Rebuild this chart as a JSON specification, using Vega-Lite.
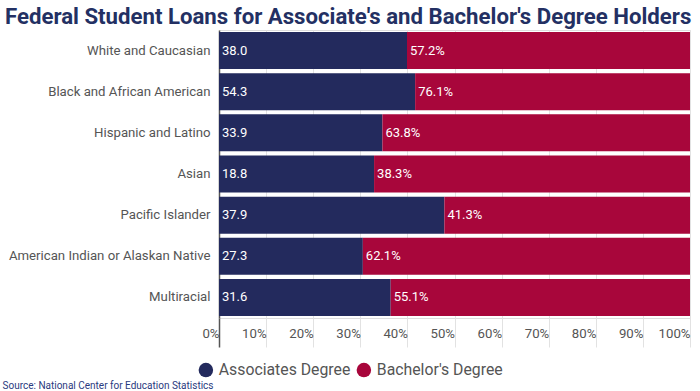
{
  "$schema": "https://vega.github.io/schema/vega-lite/v6.json",
  "width": 471,
  "height": 288,
  "autosize": "none",
  "padding": {"left": 219, "top": 30, "right": 10, "bottom": 73},
  "background": "white",
  "title": {
    "text": "Federal Student Loans for Associate's and Bachelor's Degree Holders",
    "font": "Roboto",
    "fontSize": 22.2,
    "fontWeight": "bold",
    "color": "#233063",
    "anchor": "start",
    "frame": "group",
    "dx": -214,
    "dy": 24,
    "baseline": "alphabetic",
    "offset": 8
  },
  "data": {
    "values": [
      {"group": "White and Caucasian", "degree": "Associates Degree", "value": 38.0, "label": "38.0"},
      {"group": "White and Caucasian", "degree": "Bachelor's Degree", "value": 57.2, "label": "57.2%"},
      {"group": "Black and African American", "degree": "Associates Degree", "value": 54.3, "label": "54.3"},
      {"group": "Black and African American", "degree": "Bachelor's Degree", "value": 76.1, "label": "76.1%"},
      {"group": "Hispanic and Latino", "degree": "Associates Degree", "value": 33.9, "label": "33.9"},
      {"group": "Hispanic and Latino", "degree": "Bachelor's Degree", "value": 63.8, "label": "63.8%"},
      {"group": "Asian", "degree": "Associates Degree", "value": 18.8, "label": "18.8"},
      {"group": "Asian", "degree": "Bachelor's Degree", "value": 38.3, "label": "38.3%"},
      {"group": "Pacific Islander", "degree": "Associates Degree", "value": 37.9, "label": "37.9"},
      {"group": "Pacific Islander", "degree": "Bachelor's Degree", "value": 41.3, "label": "41.3%"},
      {"group": "American Indian or Alaskan Native", "degree": "Associates Degree", "value": 27.3, "label": "27.3"},
      {"group": "American Indian or Alaskan Native", "degree": "Bachelor's Degree", "value": 62.1, "label": "62.1%"},
      {"group": "Multiracial", "degree": "Associates Degree", "value": 31.6, "label": "31.6"},
      {"group": "Multiracial", "degree": "Bachelor's Degree", "value": 55.1, "label": "55.1%"}
    ]
  },
  "transform": [
    {"stack": "value", "groupby": ["group"], "sort": [{"field": "degree", "order": "ascending"}], "offset": "normalize", "as": ["x0", "x1"]}
  ],
  "encoding": {
    "y": {
      "field": "group",
      "type": "nominal",
      "sort": null,
      "scale": {"paddingInner": 0.1, "paddingOuter": 0.05},
      "axis": {
        "title": null,
        "ticks": false,
        "domain": true,
        "domainColor": "#555555",
        "domainWidth": 1.5,
        "labelFont": "Roboto",
        "labelFontSize": 13.2,
        "labelColor": "#555555",
        "labelPadding": 9,
        "labelLimit": 0
      }
    }
  },
  "layer": [
    {
      "mark": {"type": "bar"},
      "encoding": {
        "x": {
          "field": "x0",
          "type": "quantitative",
          "scale": {"domain": [0, 1], "nice": false},
          "axis": {
            "title": "Source: National Center for Education Statistics",
            "titleFont": "Liberation Sans Narrow, Roboto",
            "titleFontSize": 10,
            "titleFontWeight": "normal",
            "titleColor": "#2a3a80",
            "titleAnchor": "start",
            "titleAlign": "left",
            "titleX": -217,
            "titleY": 67,
            "titleBaseline": "middle",
            "format": ".0%",
            "values": [0, 0.1, 0.2, 0.3, 0.4, 0.5, 0.6, 0.7, 0.8, 0.9, 1],
            "grid": true,
            "gridColor": "#e2e2e2",
            "domain": false,
            "tickSize": 29,
            "tickColor": {"condition": {"test": "datum.value === 0", "value": "#555555"}, "value": "#e2e2e2"},
            "tickWidth": {"condition": {"test": "datum.value === 0", "value": 1.5}, "value": 1},
            "labelAlign": "right",
            "labelBaseline": "middle",
            "labelDx": -5,
            "labelPadding": -14,
            "labelFont": "Roboto",
            "labelFontSize": 13.2,
            "labelColor": "#555555",
            "labelFlush": false
          }
        },
        "x2": {"field": "x1"},
        "color": {
          "field": "degree",
          "type": "nominal",
          "scale": {"domain": ["Associates Degree", "Bachelor's Degree"], "range": ["#232a5d", "#a8063b"]},
          "legend": {
            "title": null,
            "orient": "none",
            "direction": "horizontal",
            "legendX": -21,
            "legendY": 332,
            "symbolType": "circle",
            "symbolSize": 210,
            "symbolStrokeWidth": 0,
            "labelFont": "Roboto",
            "labelFontSize": 15.8,
            "labelColor": "#555555",
            "labelOffset": 5,
            "columnPadding": 5
          }
        }
      }
    },
    {
      "mark": {"type": "text", "align": "left", "baseline": "middle", "dx": 3, "font": "Roboto", "fontSize": 13, "fontWeight": "normal", "color": "white"},
      "encoding": {
        "x": {"field": "x0", "type": "quantitative"},
        "text": {"field": "label"}
      }
    }
  ]
}
